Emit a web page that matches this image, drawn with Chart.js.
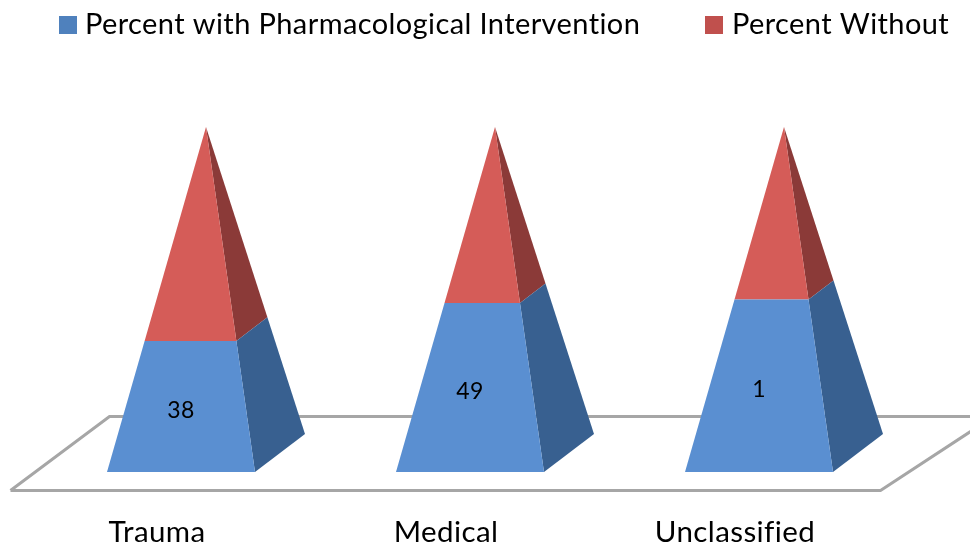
<!DOCTYPE html>
<html lang="en">
<head>
    <meta charset="UTF-8">
    <title>Pharmacological Intervention</title>
    <script src="https://cdn.jsdelivr.net/npm/chart.js"></script>
    <style>
        html, body { margin: 0; height: 100%; overflow: hidden; background: white; }
        #wrap { width: 970px; height: 544px; }
    </style>
</head>
<body>
    <div id="wrap"><canvas id="pyramidChart"></canvas></div>
    <script>
        const categories = ['Trauma', 'Medical', 'Unclassified'];
        const withIntervention = [38, 49, 1];
        const withoutIntervention = [62, 51, 1];
        const seriesNames = ['Percent with Pharmacological Intervention', 'Percent Without'];
        const legendColors = ['#4f81bd', '#c0504d'];
        const faceColors = [['#5a8fd1', '#386090'], ['#d55c58', '#8b3a38']];
        const fontName = 'Lato, "Open Sans", sans-serif';

        // stacked to 100, each pyramid is always full height
        const share = (a, b) => a.map((v, i) => v / (v + b[i]) * 100);

        function poly(ctx, color, pts) {
            ctx.fillStyle = color;
            ctx.beginPath();
            pts.forEach((p, i) => i ? ctx.lineTo(p[0], p[1]) : ctx.moveTo(p[0], p[1]));
            ctx.closePath();
            ctx.fill();
        }

        const pyramids = {
            id: 'pyramids',
            beforeDraw(chart) {
                // Lato runs narrower than the original font
                chart.ctx.letterSpacing = '0.4px';
            },
            beforeDatasetsDraw(chart) {
                // floor of the 3D plot
                const { ctx, chartArea: a } = chart;
                ctx.save();
                ctx.strokeStyle = '#a6a6a6';
                ctx.lineWidth = 3;
                ctx.beginPath();
                ctx.moveTo(a.left - 26, a.bottom + 18.5);
                ctx.lineTo(a.left + 73, a.bottom - 55.5);
                ctx.lineTo(a.right + 80, a.bottom - 55.5);
                ctx.moveTo(a.right + 80, a.bottom - 49);
                ctx.lineTo(a.right - 23, a.bottom + 18.5);
                ctx.lineTo(a.left - 26, a.bottom + 18.5);
                ctx.stroke();
                ctx.restore();
            },
            beforeDatasetDraw(chart, args) {
                const { ctx, scales } = chart;
                const base = scales.y.getPixelForValue(0);
                const top = scales.y.getPixelForValue(100);
                const depthX = 50, depthY = -38, apexShift = 25;
                chart.getDatasetMeta(args.index).data.forEach(bar => {
                    const half = bar.width / 2;
                    const apexX = bar.x + apexShift;
                    // point on an edge of the pyramid at a given y value
                    const edge = (x, y, value) => {
                        const f = (base - value) / (base - top);
                        return [x + (apexX - x) * f, y + (top - y) * f];
                    };
                    const lo = args.index === 0 ? base : bar.base;
                    const hi = bar.y;
                    const corners = [[bar.x - half, base], [bar.x + half, base], [bar.x + half + depthX, base + depthY]];
                    const lower = corners.map(c => edge(c[0], c[1], lo));
                    const upper = corners.map(c => edge(c[0], c[1], hi));
                    const colors = faceColors[args.index];
                    poly(ctx, colors[1], [lower[1], lower[2], upper[2], upper[1]]);
                    poly(ctx, colors[0], [lower[0], lower[1], upper[1], upper[0]]);
                });
                return false;
            },
            afterDatasetsDraw(chart) {
                const { ctx } = chart;
                ctx.save();
                ctx.fillStyle = '#000';
                ctx.textAlign = 'center';
                ctx.textBaseline = 'middle';
                ctx.font = '23px ' + fontName;
                chart.getDatasetMeta(0).data.forEach((bar, i) => {
                    ctx.fillText(withIntervention[i], bar.x, (bar.y + bar.base) / 2 + 4);
                });
                // legend, the gaps do not fit the built in one
                ctx.font = '29px ' + fontName;
                ctx.textAlign = 'left';
                const legendX = [59, 705];
                seriesNames.forEach((name, i) => {
                    ctx.fillStyle = legendColors[i];
                    ctx.fillRect(legendX[i], 16, 18, 18);
                    ctx.fillStyle = '#000';
                    ctx.fillText(name, legendX[i] + (i ? 27 : 26), 25);
                });
                ctx.restore();
            }
        };

        new Chart(document.getElementById('pyramidChart').getContext('2d'), {
            type: 'bar',
            data: {
                labels: categories,
                datasets: [
                    { label: seriesNames[0], data: share(withIntervention, withoutIntervention), backgroundColor: legendColors[0] },
                    { label: seriesNames[1], data: share(withoutIntervention, withIntervention), backgroundColor: legendColors[1] }
                ]
            },
            options: {
                responsive: true,
                maintainAspectRatio: false,
                animation: false,
                barThickness: 148,
                layout: { padding: { top: 127, left: 36.5, right: 66.5, bottom: 0 } },
                plugins: { legend: { display: false }, tooltip: { enabled: false } },
                scales: {
                    x: {
                        stacked: true,
                        afterFit: s => { s.height = 72; },
                        grid: { display: false },
                        border: { display: false },
                        ticks: {
                            color: '#000',
                            font: { family: fontName, size: 29.5 },
                            padding: 35,
                            labelOffset: -24,
                            maxRotation: 0,
                            autoSkip: false
                        }
                    },
                    y: { stacked: true, display: false, min: 0, max: 100 }
                }
            },
            plugins: [pyramids]
        });
    </script>
</body>
</html>
